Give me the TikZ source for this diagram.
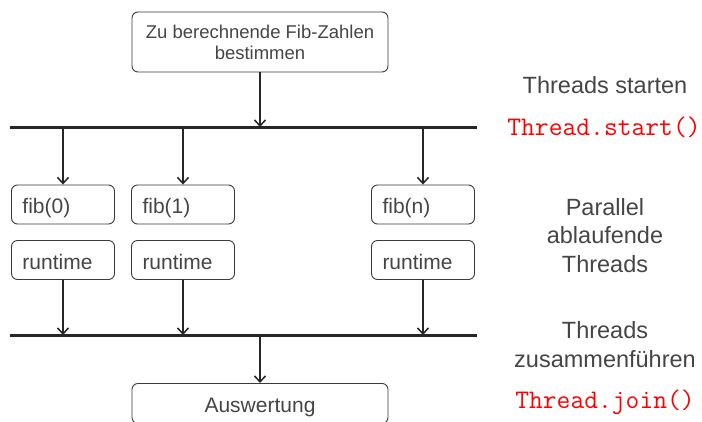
\documentclass[tikz,border=0pt]{standalone}
\usepackage{fontspec}
\setmainfont{Liberation Sans}
\usetikzlibrary{arrows.meta}
\definecolor{txtgray}{HTML}{454545}
\definecolor{boxgray}{HTML}{3A3A3A}
\tikzset{
  box/.style={draw=boxgray, line width=0.9pt, rounded corners=6pt, text=txtgray, inner sep=0pt},
  smallbox/.style={box, minimum width=103pt, minimum height=39pt, text width=81pt, inner xsep=11pt,
    align=left, text height=18pt, text depth=0pt, font=\fontsize{21}{24}\selectfont},
  flow/.style={line width=1.5pt, draw=black!85, -{Straight Barb[length=6pt,width=11pt,line width=1.5pt]}},
  bar/.style={line width=3pt, draw=black!85},
  side/.style={text=txtgray, font=\fontsize{23.5}{28}\selectfont, anchor=base},
  code/.style={text=red, font=\ttfamily\fontsize{26.8}{30}\selectfont, anchor=base}
}
\begin{document}
\begin{tikzpicture}[x=1pt,y=-1pt]
\useasboundingbox (0,0) rectangle (702,421);
% top box
\node[box, minimum width=256pt, minimum height=60pt, align=center, font=\fontsize{18.5}{21}\selectfont]
  (top) at (260,42) {Zu berechnende Fib-Zahlen\\bestimmen};
% bars
\coordinate (b1L) at (10,127); \coordinate (b1R) at (477,127);
\coordinate (b2L) at (10,335); \coordinate (b2R) at (477,335);
\draw[bar] (b1L) -- (b1R);
\draw[bar] (b2L) -- (b2R);
% thread boxes
\node[smallbox] (f0) at (63,204.5) {fib(0)};
\node[smallbox] (f1) at (183,204.5) {fib(1)};
\node[smallbox] (fn) at (423,204.5) {fib(n)};
\node[smallbox] (r0) at (63,260) {runtime};
\node[smallbox] (r1) at (183,260) {runtime};
\node[smallbox] (rn) at (423,260) {runtime};
% bottom box (cut at the image border)
\begin{scope}
\clip (0,0) rectangle (702,421);
\node[box, anchor=north, minimum width=256pt, minimum height=40pt, text height=18pt, text depth=0pt,
  font=\fontsize{21}{24}\selectfont] (ausw) at (260,383) {Auswertung};
\end{scope}
% arrows
\draw[flow] (top.south) -- (top.south |- b1L);
\draw[flow] (f0.north |- b1L) -- (f0.north);
\draw[flow] (f1.north |- b1L) -- (f1.north);
\draw[flow] (fn.north |- b1L) -- (fn.north);
\draw[flow] (r0.south) -- (r0.south |- b2L);
\draw[flow] (r1.south) -- (r1.south |- b2L);
\draw[flow] (rn.south) -- (rn.south |- b2L);
\draw[flow] (ausw.north |- b2L) -- (ausw.north);
% side texts
\node[side] (t1) at (605,93) {Threads starten};
\node[code] (c1) at (604,135) {Thread.start()};
\node[side] (t2) at (605,215) {Parallel};
\node[side] (t3) at (605,243) {ablaufende};
\node[side] (t4) at (605,272) {Threads};
\node[side] (t5) at (605,338) {Threads};
\node[side] (t6) at (605,367) {zusammenführen};
\node[code] (c2) at (605,408) {Thread.join()};
\end{tikzpicture}
\end{document}
